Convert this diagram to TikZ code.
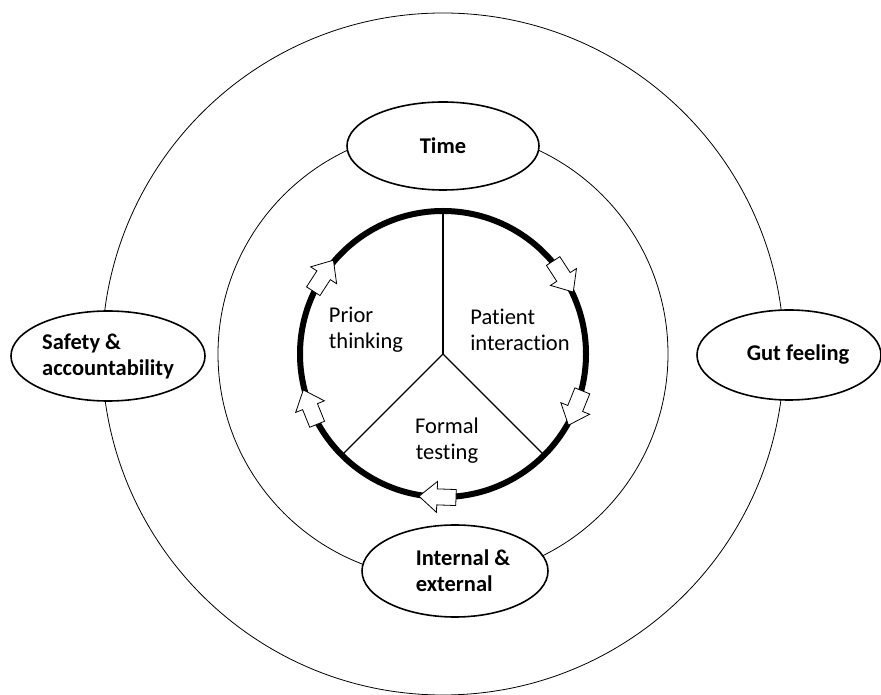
\documentclass[tikz,border=0pt]{standalone}
\usepackage{fontspec}
\setmainfont{Carlito}[Ligatures=CommonOff]
\usetikzlibrary{shapes.geometric}

\begin{document}
\begin{tikzpicture}[x=1pt,y=1pt,
  every node/.style={font=\fontsize{22.5}{26}\selectfont},
  factor/.style={ellipse,draw,line width=1.6pt,fill=white,inner sep=0pt,
    align=left,font=\bfseries\fontsize{22.5}{26}\selectfont},
  phase/.style={align=left},
  flow/.style={draw,fill=white,line width=0.8pt,line join=miter}]
  \useasboundingbox (0,0) rectangle (881,694);
  \coordinate (hub) at (443,340);
  % rings
  \draw[line width=0.8pt] (hub) circle[radius=341];
  \draw[line width=0.8pt] (hub) circle[radius=225];
  % influencing factors
  \node[factor,minimum width=192,minimum height=88] (time) at (443,548) {Time};
  \node[factor,minimum width=184,minimum height=90] (gut) at (789,339) {\hspace*{18pt}Gut feeling};
  \node[factor,minimum width=194,minimum height=90] (safety) at (108,338) {Safety \&\\accountability};
  \node[factor,minimum width=186,minimum height=92] (internal) at (455,123)
    {\hspace*{16pt}Internal \&\\\hspace*{16pt}external};
  % cycle
  \draw[line width=6pt] (hub) circle[radius=143];
  \foreach \ang in {90,225,315}
    \draw[line width=1.2pt] (hub) -- ([shift={(\ang:143)}]hub);
  \node[phase] (prior) at (366,364) {Prior\\thinking};
  \node[phase] (patient) at (520,364) {Patient\\interaction};
  \node[align=center] (formal) at (447,253) {Formal\\testing};
  % clockwise block arrows
  \foreach \ang in {147,33,-22,-92,202}{
    \begin{scope}[shift={(hub)},rotate=\ang,shift={(143,0)}]
      \draw[flow] (-8,18) -- (8,18) -- (8,-1) -- (15.5,-1) -- (0,-19)
        -- (-15.5,-1) -- (-8,-1) -- cycle;
    \end{scope}}
\end{tikzpicture}
\end{document}
